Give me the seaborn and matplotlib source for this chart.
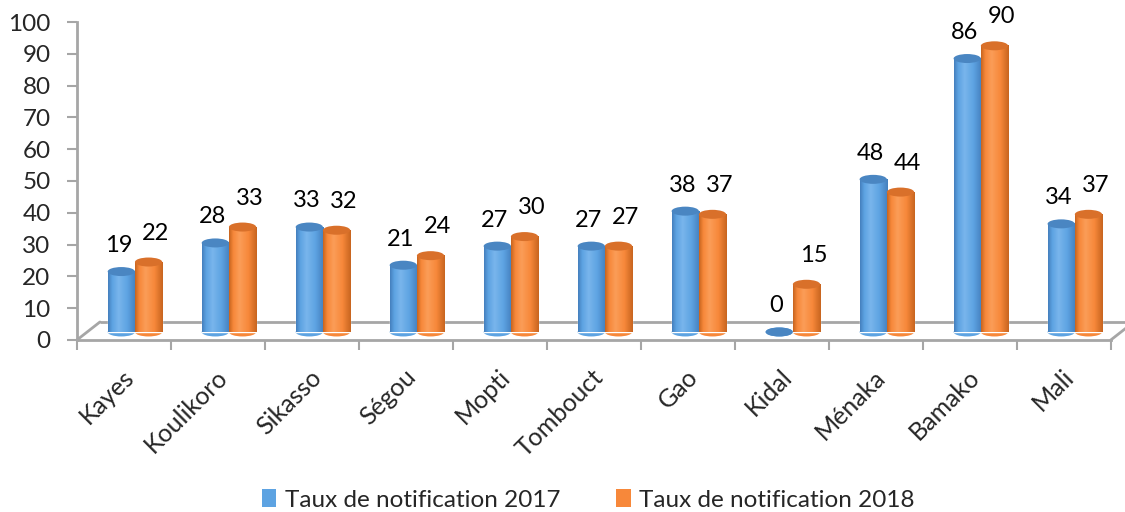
import numpy as np
import pandas as pd
import matplotlib
matplotlib.use("Agg")
import matplotlib.pyplot as plt
import seaborn as sns
from matplotlib.patches import Ellipse, Patch
from matplotlib.transforms import ScaledTranslation
from matplotlib.colors import LinearSegmentedColormap
from matplotlib.lines import Line2D

# ---- data ----
categories = ["Kayes", "Koulikoro", "Sikasso", "Ségou", "Mopti", "Tombouct",
              "Gao", "Kidal", "Ménaka", "Bamako", "Mali"]
rate_2017 = [19, 28, 33, 21, 27, 27, 38, 0, 48, 86, 34]
rate_2018 = [22, 33, 32, 24, 30, 27, 37, 15, 44, 90, 37]
series_names = ["Taux de notification 2017", "Taux de notification 2018"]
y_ticks = [0, 10, 20, 30, 40, 50, 60, 70, 80, 90, 100]

df = pd.DataFrame({
    "Région": categories * 2,
    "Taux": rate_2017 + rate_2018,
    "Série": [series_names[0]] * len(categories) + [series_names[1]] * len(categories),
})

sns.set_style("white")
plt.rcParams["font.family"] = ["Lato", "DejaVu Sans"]

base_colors = ["#5DA3E2", "#F7883A"]
cap_colors = ["#4A86C2", "#D9702A"]
dark_colors = ["#4580BE", "#C8651F"]
light_colors = ["#79B5EC", "#FB9D58"]

fig = plt.figure(figsize=(11.25, 5.12), dpi=100)
ax = fig.add_axes([0.0684, 0.336, 0.919, 0.621])

sns.barplot(data=df, x="Région", y="Taux", hue="Série", palette=base_colors,
            width=0.58, saturation=1, ax=ax, legend=False, zorder=3)

ax.set_ylim(0, 100)
ax.set_xlim(-0.5, len(categories) - 0.5)

# 3D-like depth offset (pixels)
off = ScaledTranslation(11 / 100, 8 / 100, fig.dpi_scale_trans)
back = ScaledTranslation(23 / 100, 18 / 100, fig.dpi_scale_trans)
tdata = ax.transData + off

px_per_unit = (0.621 * 512) / 100.0
cap_h = 9 / px_per_unit

grad_x = np.linspace(0, 1, 64)
for si, container in enumerate(ax.containers):
    cmap = LinearSegmentedColormap.from_list(
        f"cyl{si}",
        [(0.0, dark_colors[si]), (0.15, base_colors[si]), (0.38, light_colors[si]),
         (0.7, base_colors[si]), (1.0, dark_colors[si])])
    for bar in container:
        bar.set_transform(tdata)
        x0, w, h = bar.get_x(), bar.get_width(), bar.get_height()
        xc = x0 + w / 2
        # rounded bottom
        bot = Ellipse((xc, 0), w, cap_h, facecolor=base_colors[si], edgecolor="none",
                      transform=tdata, zorder=2.9, clip_on=False)
        ax.add_patch(bot)
        if h > 0:
            im = ax.imshow(grad_x[None, :], extent=[x0, x0 + w, 0, h], aspect="auto",
                           cmap=cmap, interpolation="bilinear", transform=tdata,
                           zorder=3.1)
            im.set_clip_on(False)
        cap = Ellipse((xc, h), w, cap_h, facecolor=cap_colors[si], edgecolor="none",
                      transform=tdata, zorder=3.3, clip_on=False)
        ax.add_patch(cap)
        dx = -2 if si == 0 else 5
        dy = 8 if si == 0 else 10
        ax.annotate(f"{int(round(h))}", (xc, h + cap_h / 2), xycoords=tdata,
                    textcoords="offset points", xytext=(dx, dy), ha="center",
                    va="bottom", fontsize=17, color="black", zorder=5,
                    annotation_clip=False)

ax.set_xlim(-0.5, len(categories) - 0.5)
ax.set_ylim(0, 100)

# floor (back edge and side edges)
floor_col = "#A6A6A6"
ax.plot([0, 1], [0, 0], transform=ax.transAxes + back, color=floor_col, lw=2,
        zorder=1, clip_on=False, solid_capstyle="butt")
for xa in (0.0, 1.0):
    p0 = ax.transAxes.transform((xa, 0))
    p1 = (ax.transAxes + back).transform((xa, 0))
    fig.add_artist(Line2D([p0[0], p1[0]], [p0[1], p1[1]], transform=None,
                          color=floor_col, lw=2, zorder=1))

# spines
for s in ["top", "right"]:
    ax.spines[s].set_visible(False)
for s in ["left", "bottom"]:
    ax.spines[s].set_color(floor_col)
    ax.spines[s].set_linewidth(2)

ax.set_yticks(y_ticks)
ax.set_yticklabels([str(t) for t in y_ticks], fontsize=17.5)
ax.tick_params(axis="y", length=7, width=1.5, color=floor_col, pad=12, left=True)

ax.set_xticks(range(len(categories)))
ax.set_xticklabels(categories, fontsize=18, rotation=45, ha="right",
                   va="center", rotation_mode="anchor")
ax.tick_params(axis="x", which="major", length=0, pad=24)
ax.set_xticks(np.arange(-0.5, len(categories), 1.0), minor=True)
ax.tick_params(axis="x", which="minor", length=7, width=1.5, color=floor_col, bottom=True)
lab_off = ScaledTranslation(6 / 100, 0, fig.dpi_scale_trans)
for lab in ax.get_xticklabels():
    lab.set_transform(lab.get_transform() + lab_off)

ax.set_xlabel("")
ax.set_ylabel("")
ax.grid(False)

handles = [Patch(facecolor=base_colors[i], edgecolor="none") for i in range(2)]
fig.legend(handles, series_names, loc="center", bbox_to_anchor=(0.523, 0.024),
           ncol=2, frameon=False, fontsize=17.5, handlelength=0.6, handleheight=0.8,
           handletextpad=0.35, columnspacing=2.3, borderpad=0)

fig.savefig("out.png", dpi=100)
